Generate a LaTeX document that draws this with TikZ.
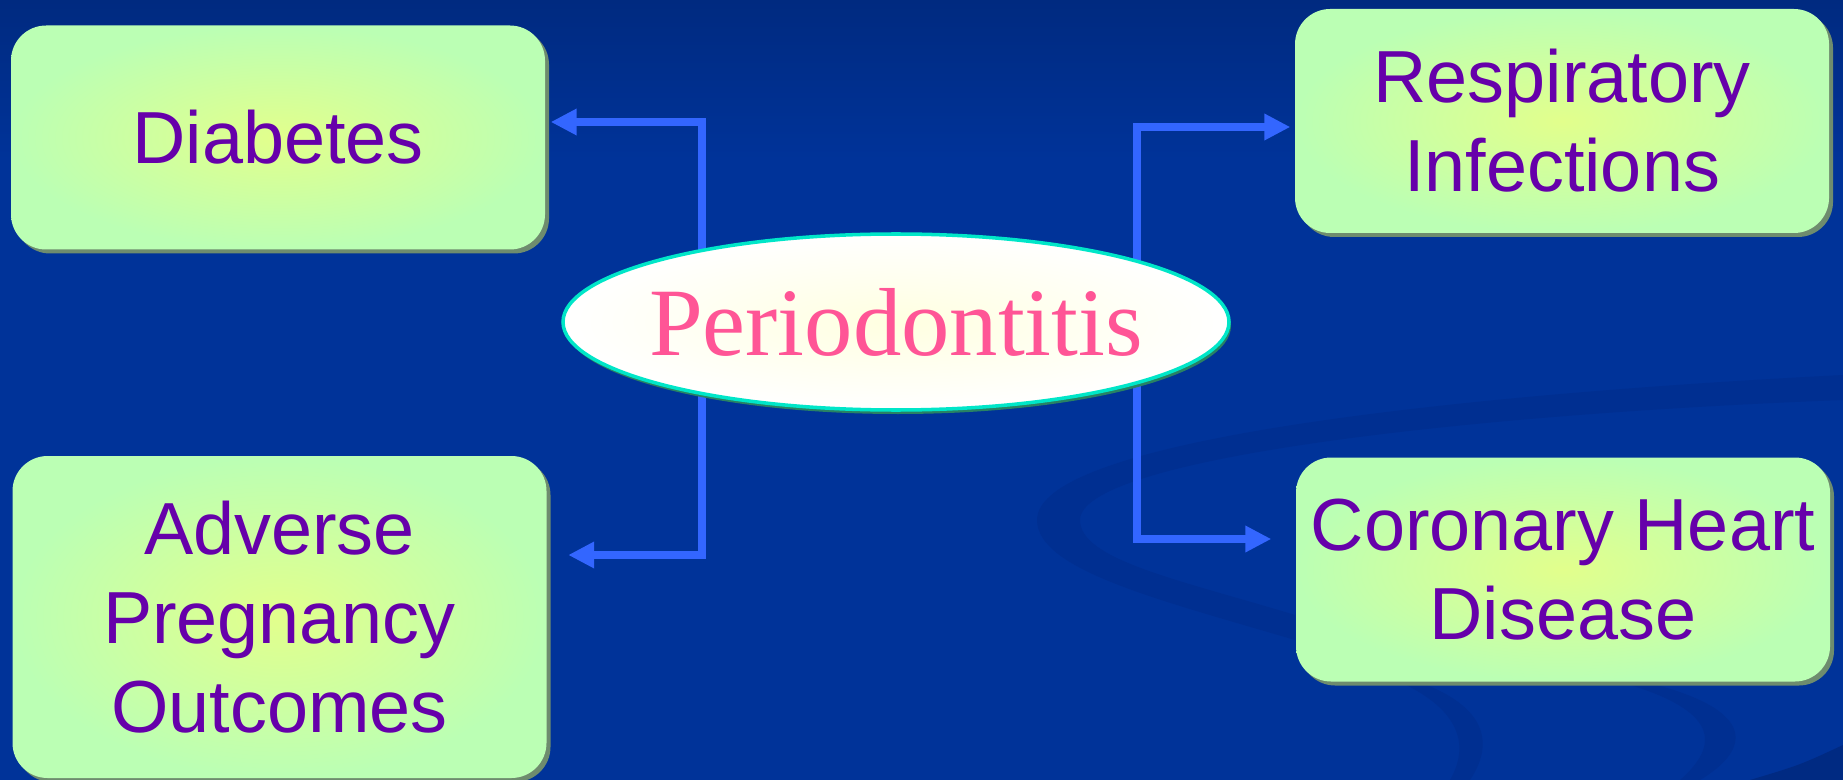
\documentclass[tikz,border=0pt]{standalone}
\usepackage{fontspec}
\setmainfont{Liberation Sans}
\newfontfamily\perifont{Liberation Serif}
\usepackage{tikz}
\usetikzlibrary{shapes.geometric, arrows.meta, positioning, shadows}
\definecolor{slideblue}{RGB}{0, 51, 153}
\definecolor{slidetop}{RGB}{0, 42, 128}
\definecolor{swirlblue}{RGB}{0, 47, 145}
\definecolor{cornerblue}{RGB}{0, 42, 130}
\definecolor{linkblue}{RGB}{51, 102, 255}
\definecolor{boxgreen}{RGB}{187, 255, 180}
\definecolor{boxyellow}{RGB}{226, 255, 140}
\definecolor{boxshadow}{RGB}{110, 140, 110}
\definecolor{labelpurple}{RGB}{102, 0, 170}
\definecolor{peripink}{RGB}{255, 85, 150}
\definecolor{rimcyan}{RGB}{0, 230, 200}
\definecolor{rimshadow}{RGB}{40, 130, 100}
\pgfdeclarelayer{back}
\pgfdeclarelayer{wires}
\pgfsetlayers{back,wires,main}
\tikzstyle{disease} = [
    rectangle,
    rounded corners=10pt,
    minimum width=5.34cm,
    minimum height=2.24cm,
    inner sep=0pt,
    align=center,
    inner color=boxyellow,
    outer color=boxgreen,
    drop shadow={shadow xshift=0.4mm, shadow yshift=-0.4mm, fill=boxshadow, opacity=1},
    text=labelpurple,
    font=\fontsize{21}{25.3}\selectfont
]
\tikzstyle{hub} = [
    ellipse,
    minimum width=6.66cm,
    minimum height=1.76cm,
    inner xsep=-1.5mm,
    inner ysep=0pt,
    draw=rimcyan,
    line width=1pt,
    inner color=yellow!12,
    outer color=white,
    drop shadow={shadow xshift=0.2mm, shadow yshift=-0.4mm, fill=rimshadow, opacity=1},
    text=peripink,
    font=\perifont\fontsize{27.5}{30}\selectfont
]
\tikzstyle{link} = [
    line width=0.75mm,
    -{Triangle[length=2.6mm, width=2.5mm]},
    color=linkblue
]

\begin{document}
\begin{tikzpicture}
    \useasboundingbox (0,0) rectangle (18.43,-7.80);
    % Nodes
    \node[hub] (peri) at (8.96,-3.22) {Periodontitis};
    \node[disease] (diab) at (2.78,-1.375) {Diabetes};
    \node[disease, minimum height=3.22cm] (preg) at (2.795,-6.17) {Adverse\\Pregnancy\\Outcomes};
    \node[disease] (resp) at (15.62,-1.21) {Respiratory\\Infections};
    \node[disease] (chd) at (15.63,-5.695) {Coronary Heart\\Disease};

    % Connectors
    \begin{pgfonlayer}{wires}
        \draw[link, shorten >=0.5mm] ([xshift=-1.94cm]peri.center) |- ([yshift=1.55mm]diab.east);
        \draw[link, shorten >=2.1mm] ([xshift=-1.94cm]peri.center) |- ([yshift=6.2mm]preg.east);
        \draw[link, shorten >=0.4mm] ([xshift=2.41cm]peri.center) |- ([yshift=-0.6mm]resp.west);
        \draw[link, shorten >=2.4mm] ([xshift=2.41cm]peri.center) |- ([yshift=3.05mm]chd.west);
    \end{pgfonlayer}

    % Backdrop
    \begin{pgfonlayer}{back}
        \fill[slideblue] (0,0) rectangle (18.43,-7.80);
        \shade[top color=slidetop, bottom color=slideblue] (0,0) rectangle (18.43,-1.6);
        \fill[swirlblue] (18.43,-3.75) .. controls (14.5,-3.95) and (10.37,-4.4) .. (10.37,-5.2)
            .. controls (10.37,-5.7) and (11.6,-6.0) .. (12.95,-6.4) -- (12.95,-6.15)
            .. controls (11.8,-5.8) and (10.8,-5.6) .. (10.8,-5.2)
            .. controls (10.8,-4.6) and (14.5,-4.15) .. (18.43,-4.0) -- cycle;
        \fill[swirlblue] (14.19,-6.82) .. controls (14.95,-7.1) and (14.9,-7.5) .. (14.7,-7.8)
            -- (14.5,-7.8) .. controls (14.7,-7.45) and (14.6,-7.1) .. (14.0,-6.82) -- cycle;
        \fill[swirlblue] (16.45,-6.82) .. controls (17.6,-7.1) and (17.5,-7.5) .. (17.0,-7.8)
            -- (16.8,-7.8) .. controls (17.2,-7.45) and (17.2,-7.1) .. (16.2,-6.82) -- cycle;
        \fill[cornerblue] (18.43,-7.45) .. controls (18.0,-7.65) .. (17.5,-7.8) -- (18.43,-7.8) -- cycle;
    \end{pgfonlayer}
\end{tikzpicture}
\end{document}
